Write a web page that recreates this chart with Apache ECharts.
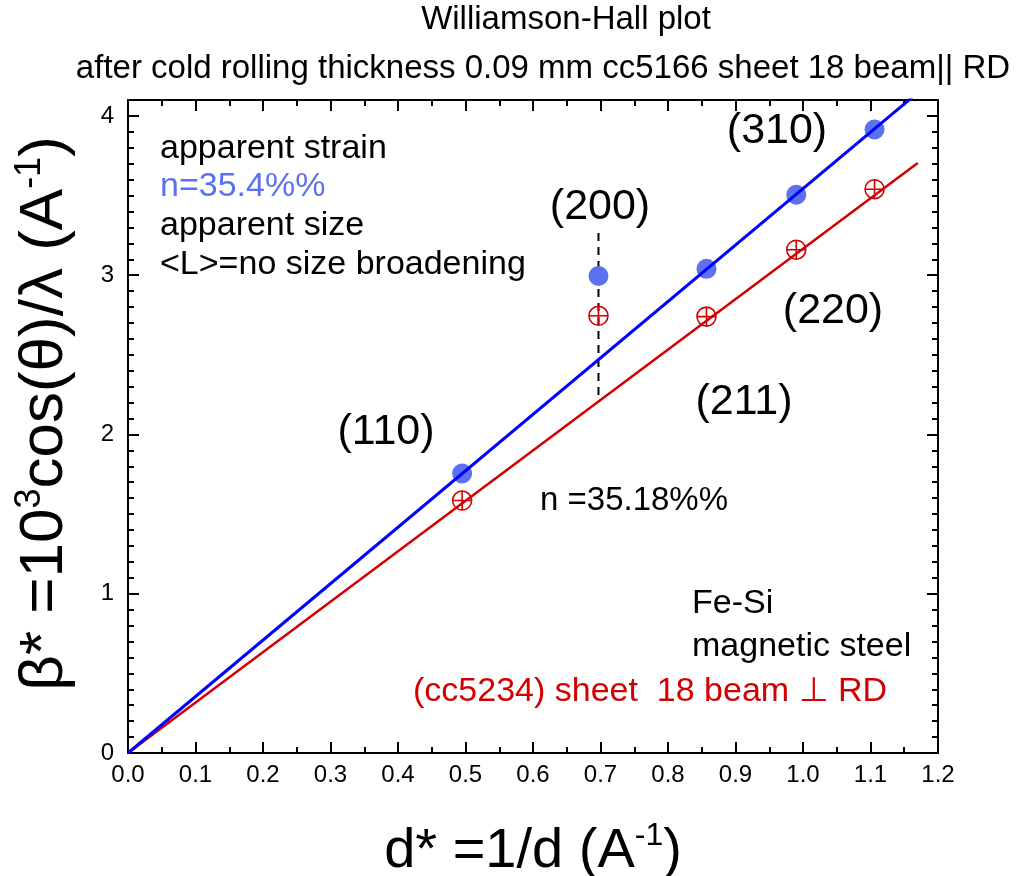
<!DOCTYPE html>
<html>
<head>
<meta charset="utf-8">
<script src="https://cdn.jsdelivr.net/npm/echarts@6/dist/echarts.min.js"></script>
<style>
html,body{margin:0;padding:0;background:#fff;overflow:hidden;}
#chart{width:1030px;height:876px;}
</style>
</head>
<body>
<div id="chart"></div>
<script>
// Data
const reflections = ['(110)', '(200)', '(211)', '(220)', '(310)'];
const dStarBlue = [0.495, 0.697, 0.857, 0.990, 1.106];
const betaBlue  = [1.755, 2.995, 3.040, 3.505, 3.915];
const dStarRed  = [0.495, 0.697, 0.857, 0.990, 1.106];
const betaRed   = [1.585, 2.745, 2.740, 3.160, 3.540];
const blueFit = [[0, 0], [1.17, 4.146]];
const redFit  = [[0, 0], [1.17, 3.705]];
const dashed200 = [[0.697, 3.265], [0.697, 2.21]];
const xTicks = [0, 1.2, 0.1];
const yTicks = [0, 4.1, 1];

const BLUE_PT = '#5a72f0';
const RED = '#d20000';
const FONT = '"Liberation Sans", Arial, sans-serif';

const chart = echarts.init(document.getElementById('chart'), null, {renderer: 'canvas', width: 1030, height: 876});

const axisCommon = {
  type: 'value',
  axisLine: {show: true, onZero: false, lineStyle: {color: '#000', width: 2}},
  axisTick: {show: true, inside: true, length: 11, lineStyle: {color: '#000', width: 2}},
  minorTick: {show: true, length: 6, lineStyle: {color: '#000', width: 2}},
  splitLine: {show: false},
  minorSplitLine: {show: false}
};

const crossCircle = 'path://M10,0A10,10,0,1,1,10,20A10,10,0,1,1,10,0ZM0,10L20,10M10,0L10,20';

const option = {
  animation: false,
  backgroundColor: '#fff',
  textStyle: {fontFamily: FONT},
  grid: {left: 128, top: 100, width: 810, height: 653, containLabel: false, outerBoundsMode: 'none'},
  xAxis: [
    Object.assign({}, axisCommon, {
      position: 'bottom', min: xTicks[0], max: xTicks[1], interval: xTicks[2],
      minorTick: Object.assign({}, axisCommon.minorTick, {splitNumber: 2}),
      axisLabel: {show: true, color: '#000', fontSize: 24, fontFamily: FONT, margin: 10,
        formatter: v => v.toFixed(1)},
      name: '{a|d* =1/d (A}{s|-1}{a|)}',
      nameLocation: 'middle', nameGap: 67,
      nameTextStyle: {
        rich: {
          a: {fontSize: 56, fontFamily: FONT, color: '#000', lineHeight: 60, verticalAlign: 'bottom'},
          s: {fontSize: 32, fontFamily: FONT, color: '#000', lineHeight: 32, verticalAlign: 'top'}
        }
      }
    }),
    Object.assign({}, axisCommon, {
      position: 'top', min: xTicks[0], max: xTicks[1], interval: xTicks[2],
      minorTick: Object.assign({}, axisCommon.minorTick, {splitNumber: 2}),
      axisLabel: {show: false}
    })
  ],
  yAxis: [
    Object.assign({}, axisCommon, {
      position: 'left', min: yTicks[0], max: yTicks[1], interval: yTicks[2],
      minorTick: Object.assign({}, axisCommon.minorTick, {splitNumber: 10}),
      axisLabel: {show: true, color: '#000', fontSize: 24, fontFamily: FONT, margin: 14,
        formatter: v => String(v)},
      name: '{a|β* =10}{s|3}{a|cos(θ)/λ (A}{s|-1}{a|)}',
      nameLocation: 'middle', nameGap: 52, nameRotate: 90,
      nameTextStyle: {
        padding: [0, 0, 0, 26],
        rich: {
          a: {fontSize: 62, fontFamily: FONT, color: '#000', lineHeight: 64, verticalAlign: 'bottom'},
          s: {fontSize: 36, fontFamily: FONT, color: '#000', lineHeight: 36, verticalAlign: 'top'}
        }
      }
    }),
    Object.assign({}, axisCommon, {
      position: 'right', min: yTicks[0], max: yTicks[1], interval: yTicks[2],
      minorTick: Object.assign({}, axisCommon.minorTick, {splitNumber: 10}),
      axisLabel: {show: false}
    })
  ],
  series: [
    {
      type: 'line', data: redFit, symbol: 'none', clip: true, z: 3,
      lineStyle: {color: RED, width: 2.5}
    },
    {
      type: 'line', data: blueFit, symbol: 'none', clip: true, z: 3,
      lineStyle: {color: '#0000ff', width: 3}
    },
    {
      type: 'line', data: dashed200, symbol: 'none', clip: true, z: 2,
      lineStyle: {color: '#000', width: 2, type: [8, 6]}
    },
    {
      type: 'scatter', data: dStarBlue.map((x, i) => [x, betaBlue[i]]),
      symbol: 'circle', symbolSize: 20, z: 2,
      itemStyle: {color: BLUE_PT, opacity: 1}
    },
    {
      type: 'scatter', data: dStarRed.map((x, i) => [x, betaRed[i]]),
      symbol: crossCircle, symbolSize: 19, z: 4,
      itemStyle: {color: 'rgba(0,0,0,0)', borderColor: RED, borderWidth: 1.6, opacity: 1}
    }
  ],
  graphic: [
    {type: 'text', x: 566, y: 20, style: {text: 'Williamson-Hall plot', font: '33px ' + FONT, fill: '#000', align: 'center', verticalAlign: 'middle'}},
    {type: 'text', x: 543, y: 69, style: {text: 'after cold rolling thickness 0.09 mm cc5166 sheet 18 beam|| RD', font: '33px ' + FONT, fill: '#000', align: 'center', verticalAlign: 'middle'}},

    {type: 'text', x: 160, y: 149, style: {text: 'apparent strain', font: '34px ' + FONT, fill: '#000', align: 'left', verticalAlign: 'middle'}},
    {type: 'text', x: 160, y: 187, style: {text: 'n=35.4%%', font: '34px ' + FONT, fill: BLUE_PT, align: 'left', verticalAlign: 'middle'}},
    {type: 'text', x: 160, y: 226, style: {text: 'apparent size', font: '34px ' + FONT, fill: '#000', align: 'left', verticalAlign: 'middle'}},
    {type: 'text', x: 160, y: 265, style: {text: '<L>=no size broadening', font: '34px ' + FONT, fill: '#000', align: 'left', verticalAlign: 'middle'}},

    {type: 'text', x: 386, y: 432, style: {text: reflections[0], font: '43px ' + FONT, fill: '#000', align: 'center', verticalAlign: 'middle'}},
    {type: 'text', x: 600, y: 207, style: {text: reflections[1], font: '43px ' + FONT, fill: '#000', align: 'center', verticalAlign: 'middle'}},
    {type: 'text', x: 744, y: 402, style: {text: reflections[2], font: '43px ' + FONT, fill: '#000', align: 'center', verticalAlign: 'middle'}},
    {type: 'text', x: 833, y: 311, style: {text: reflections[3], font: '43px ' + FONT, fill: '#000', align: 'center', verticalAlign: 'middle'}},
    {type: 'text', x: 777, y: 131, style: {text: reflections[4], font: '43px ' + FONT, fill: '#000', align: 'center', verticalAlign: 'middle'}},

    {type: 'text', x: 540, y: 501, style: {text: 'n =35.18%%', font: '33px ' + FONT, fill: '#000', align: 'left', verticalAlign: 'middle'}},

    {type: 'text', x: 692, y: 604, style: {text: 'Fe-Si', font: '34px ' + FONT, fill: '#000', align: 'left', verticalAlign: 'middle'}},
    {type: 'text', x: 692, y: 647, style: {text: 'magnetic steel', font: '34px ' + FONT, fill: '#000', align: 'left', verticalAlign: 'middle'}},
    {type: 'text', x: 413, y: 692, style: {text: '(cc5234) sheet  18 beam \u22A5 RD', font: '34px ' + FONT, fill: RED, align: 'left', verticalAlign: 'middle'}}
  ]
};

chart.setOption(option);
</script>
</body>
</html>
